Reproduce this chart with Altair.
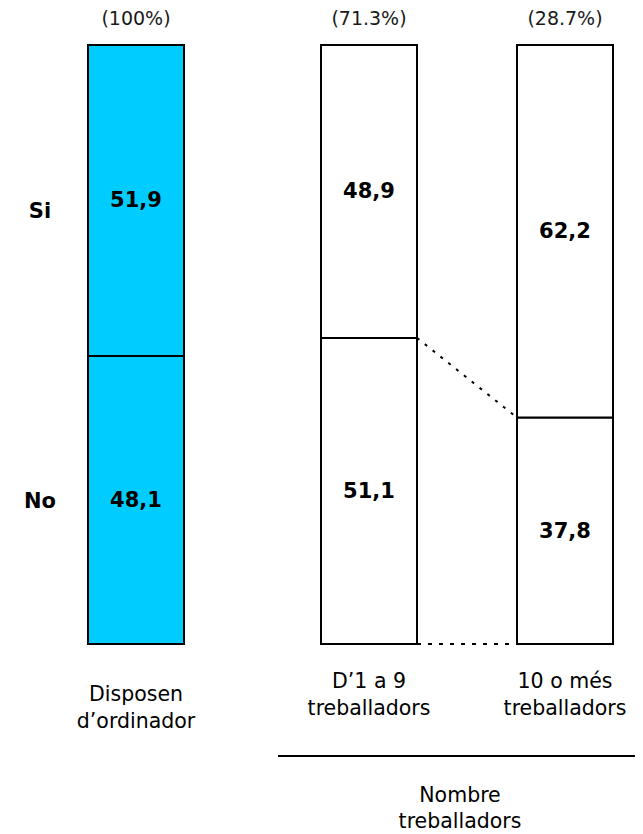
import altair as alt
import pandas as pd

# ---- data ----
categories = ["Disposen\nd’ordinador", "D’1 a 9\ntreballadors", "10 o més\ntreballadors"]
shares = ["(100%)", "(71.3%)", "(28.7%)"]
si_values = [51.9, 48.9, 62.2]
no_values = [48.1, 51.1, 37.8]
row_labels = ["Si", "No"]
group_label = "Nombre\ntreballadors"

# ---- layout (pixels inside the view) ----
W, H = 627, 826
BAR_LEFT = [80, 313, 509]
BAR_W = 96
Y_TOP, Y_BOTTOM = 37, 636
FILLS = ["#00CCFF", "#FFFFFF", "#FFFFFF"]
LABEL_Y = [687, 674, 674]
ROW_Y = [204, 494]
FONT = "DejaVu Sans"

xs = alt.Scale(domain=[0, W], range=[0, W])
ys = alt.Scale(domain=[0, 100], range=[Y_BOTTOM, Y_TOP])


def fmt(v):
    return f"{v:.1f}".replace(".", ",")


seg_rows = []
for i, cat in enumerate(categories):
    x0 = BAR_LEFT[i]
    x1 = BAR_LEFT[i] + BAR_W
    seg_rows.append(dict(cat=cat, row="No", x0=x0, x1=x1, y0=0, y1=no_values[i],
                         mid=no_values[i] / 2, txt=fmt(no_values[i]), fill=FILLS[i]))
    seg_rows.append(dict(cat=cat, row="Si", x0=x0, x1=x1, y0=no_values[i], y1=100,
                         mid=(no_values[i] + 100) / 2, txt=fmt(si_values[i]), fill=FILLS[i]))
seg = pd.DataFrame(seg_rows)

cat_df = pd.DataFrame(dict(
    cat=categories,
    share=shares,
    xc=[BAR_LEFT[i] + BAR_W / 2 for i in range(3)],
    ly=LABEL_Y,
))

row_df = pd.DataFrame(dict(lab=row_labels, ry=ROW_Y))

conn_df = pd.DataFrame(dict(
    xa=[BAR_LEFT[1] + BAR_W, BAR_LEFT[1] + BAR_W],
    xb=[BAR_LEFT[2], BAR_LEFT[2]],
    ya=[no_values[1], 0],
    yb=[no_values[2], 0],
    kind=["dash", "dot"],
))

bars = alt.Chart(seg).mark_rect(stroke="#000000", strokeWidth=2).encode(
    x=alt.X("x0:Q", scale=xs, axis=None),
    x2="x1:Q",
    y=alt.Y("y0:Q", scale=ys, axis=None),
    y2="y1:Q",
    color=alt.Color("fill:N", scale=None),
)

values = alt.Chart(seg).mark_text(
    font=FONT, fontSize=21, fontWeight="bold", color="#000000", baseline="middle", dy=1
).encode(
    x=alt.X("xc:Q", scale=xs),
    y=alt.Y("mid:Q", scale=ys),
    text="txt:N",
).transform_calculate(xc="(datum.x0 + datum.x1) / 2")

dash = alt.Chart(conn_df[conn_df.kind == "dash"]).mark_rule(
    stroke="#000000", strokeWidth=2, strokeDash=[3, 7]
).encode(
    x=alt.X("xa:Q", scale=xs), x2="xb:Q",
    y=alt.Y("ya:Q", scale=ys), y2="yb:Q",
)
dot = alt.Chart(conn_df[conn_df.kind == "dot"]).mark_rule(
    stroke="#000000", strokeWidth=2.2, strokeDash=[4, 7]
).encode(
    x=alt.X("xa:Q", scale=xs), x2="xb:Q",
    y=alt.Y("ya:Q", scale=ys), y2="yb:Q",
)

share_txt = alt.Chart(cat_df).mark_text(
    font=FONT, fontSize=19, color="#1a1a1a", baseline="middle"
).encode(
    x=alt.X("xc:Q", scale=xs),
    y=alt.value(11),
    text="share:N",
)

cat_txt = alt.Chart(cat_df).mark_text(
    font=FONT, fontSize=20.5, color="#000000", baseline="middle",
    lineBreak="\n", lineHeight=27,
).encode(
    x=alt.X("xc:Q", scale=xs),
    y=alt.Y("ly:Q", scale=None),
    text="cat:N",
)

row_txt = alt.Chart(row_df).mark_text(
    font=FONT, fontSize=21, fontWeight="bold", color="#000000", baseline="middle"
).encode(
    x=alt.value(32),
    y=alt.Y("ry:Q", scale=None),
    text="lab:N",
)

group_line = alt.Chart(pd.DataFrame({"g": [group_label]})).mark_rule(
    stroke="#000000", strokeWidth=2
).encode(
    x=alt.value(270), x2=alt.value(635), y=alt.value(748),
)

group_txt = alt.Chart(pd.DataFrame({"g": [group_label]})).mark_text(
    font=FONT, fontSize=20.5, color="#000000", baseline="middle",
    lineBreak="\n", lineHeight=26,
).encode(
    x=alt.value(452), y=alt.value(788), text="g:N",
)

chart = alt.layer(
    bars, dash, dot, values, share_txt, cat_txt, row_txt, group_line, group_txt
).properties(
    width=W, height=H,
    autosize=alt.AutoSizeParams(type="none"),
    padding=0,
).configure_view(stroke=None)

chart.save("out.html", embed_options={"renderer": "svg", "actions": False})
